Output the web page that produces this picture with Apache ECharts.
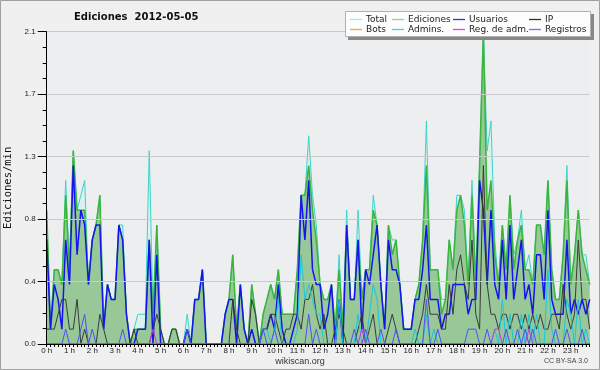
<!DOCTYPE html>
<html><head><meta charset="utf-8">
<script src="https://cdn.jsdelivr.net/npm/echarts@6/dist/echarts.min.js"></script>
<style>html,body{margin:0;padding:0;background:#f0f0f0}#c{width:600px;height:370px}</style>
</head><body><div id="c"></div>
<script>
const hourLabels = ['0 h','1 h','2 h','3 h','4 h','5 h','6 h','7 h','8 h','9 h','10 h','11 h','12 h','13 h','14 h','15 h','16 h','17 h','18 h','19 h','20 h','21 h','22 h','23 h'];
const minuteSteps = ['00','10','20','30','40','50'];
const yTicks = [0, 0.42, 0.84, 1.26, 1.68, 2.1];

const total = [
.9,.1,.5,.5,.4,1.1,.5,1.3,.9,1.0,
1.1,.4,.7,.8,1.0,.1,.4,.3,.3,.8,
.8,.2,0,.1,.2,.2,.2,1.3,.2,.8,
.1,0,0,.1,.1,0,0,.2,0,.3,
.3,.5,0,0,0,0,0,.2,.3,.6,
.1,.4,.1,0,.4,.2,0,.2,.3,.4,
.3,.5,.2,.2,.2,.2,.5,1.0,1.0,1.4,
1.0,.8,.4,.3,.3,.4,.1,.6,.1,.9,
.3,.3,.9,.3,.5,.5,1.0,.8,.4,.1,
.8,.7,.7,.4,.1,.1,.1,.3,.4,.7,
1.5,.5,.5,.5,.3,.3,.7,.5,1.0,1.0,
.9,.4,1.1,.4,1.2,2.1,1.3,1.5,.7,.4,
.8,.5,1.0,.6,.7,.9,.5,.6,.4,.8,
.8,.6,1.1,.5,.3,.3,.6,1.2,.4,.6,
.9,.6,.6,.4];
const ediciones = [
.9,.1,.5,.5,.4,1.0,.5,1.3,.9,.9,
.9,.4,.7,.8,1.0,.1,.4,.3,.3,.8,
.7,.2,0,.1,.1,.1,.1,.7,.2,.8,
.1,0,0,.1,.1,0,0,.1,0,.3,
.3,.5,0,0,0,0,0,.2,.3,.6,
.1,.4,.1,0,.4,.2,0,.2,.3,.4,
.3,.5,.2,.2,.2,.2,.5,1.0,1.0,1.2,
.9,.7,.4,.3,.3,.4,.1,.5,.1,.8,
.3,.3,.7,.3,.5,.5,.9,.8,.4,.1,
.8,.6,.7,.4,.1,.1,.1,.3,.4,.7,
1.2,.5,.5,.5,.2,.3,.7,.5,.9,1.0,
.8,.4,1.0,.4,1.2,2.1,.9,1.1,.6,.4,
.8,.5,1.0,.5,.7,.8,.5,.5,.4,.8,
.8,.6,1.1,.5,.3,.3,.6,1.1,.4,.6,
.9,.6,.5,.4];
const usuarios = [
.7,.1,.4,.3,.1,.7,.4,1.2,.6,.9,
.8,.4,.7,.8,.8,.1,.4,.3,.3,.8,
.7,.2,0,0,.1,.1,.1,.7,0,.6,
0,0,0,0,0,0,0,.1,0,.3,
.3,.5,0,0,0,0,0,.2,.3,.3,
0,.4,.1,0,.1,0,0,.1,.1,.2,
.1,.4,.1,0,0,.1,.2,1.0,.7,1.1,
.5,.4,.4,.1,.2,.4,0,.3,0,.8,
.3,.3,.7,.1,.5,.4,.6,.8,.4,.1,
.7,.5,.5,.4,.1,.1,.1,.3,.3,.5,
.8,.3,.3,.3,.1,.2,.2,.4,.4,.4,
.4,.2,.3,.3,1.1,.9,.4,.9,.4,.3,
.7,.3,.8,.3,.5,.7,.3,.4,.2,.6,
.6,.3,.9,.3,.2,.2,.2,.7,.2,.3,
.2,.3,.2,.3];
const ip = [
.1,.1,.1,.2,.3,.3,.1,.1,.3,0,
.1,0,0,0,.2,.1,0,0,0,0,
0,0,0,.1,0,0,0,0,.1,.2,
.1,0,0,.1,.1,0,0,0,0,0,
0,0,0,0,0,0,0,0,0,.3,
.1,0,0,0,.3,.2,0,.1,.1,.2,
.2,.1,0,.1,.1,.2,.2,.1,.3,.3,
.4,.2,.1,.2,0,0,.1,.2,.1,0,
0,0,.1,.2,0,.1,.2,0,0,0,
.1,.2,.1,0,0,0,0,0,.1,.2,
.4,.2,.2,.2,.1,.1,.4,.2,.5,.6,
.4,.3,.7,.2,.1,1.2,.4,.2,.2,.1,
.2,.2,.1,.2,.2,.1,.2,.1,.2,.1,
.2,.1,.1,.2,.2,.1,.4,.2,.1,.2,
.7,.3,.3,.1];
const bots = [
0,0,0,0,0,0,0,0,0,0, 0,0,0,0,0,0,0,0,0,0, 0,0,0,0,0,0,0,0,0,0, 0,0,0,0,0,0,0,0,0,0,
0,0,0,0,0,0,0,0,0,0, 0,0,0,0,0,0,0,0,0,0, 0,0,0,0,0,0,0,0,0,0, 0,0,0,0,0,0,0,0,0,0,
0,0,0,0,0,0,0,0,0,0, 0,0,0,0,0,0,0,0,0,0, 0,0,0,0,0,0,0,0,0,0, 0,0,0,0,0,0,0,0,0,0,
0,0,0,0,0,0,0,0,0,0, 0,0,0,0,0,0,0,0,0,0, 0,0,0,0];
const admins = [
0,0,0,0,0,0,0,0,0,0, 0,0,0,0,0,0,0,0,0,0, 0,0,0,0,0,0,0,0,0,0, 0,0,0,0,0,0,0,0,0,0,
0,0,0,0,0,0,0,0,0,0,
0,0,0,0,0,0,0,.1,.1,0,
.1,.3,0,0,0,0,.1,.6,.3,.4,
.3,.2,.2,0,0,0,0,.3,0,0,
0,0,.2,0,0,.2,.4,.3,0,0,
0,0,0,0,0,0,0,.1,0,0,
.2,0,.1,0,0,0,0,0,0,0,
0,0,0,0,0,0,0,0,.1,0,
.3,0,.2,0,0,.2,0,.2,0,.2,
0,0,.5,.1,0,0,0,.3,.2,0,
.3,0,.1,0];
const regAdm = [
0,0,0,0,0,0,0,0,0,0, 0,0,0,0,0,0,0,0,0,0, 0,0,0,0,0,0,0,0,.1,0, 0,0,0,0,0,0,0,0,0,0,
0,0,0,0,0,0,0,0,0,0, 0,0,0,0,0,0,0,0,0,0, 0,0,0,0,0,0,0,0,0,0, 0,0,0,0,0,0,0,0,0,0,
0,0,0,.1,0,0,0,0,0,0, 0,0,0,0,0,0,0,0,0,0, 0,0,0,0,0,0,0,0,0,0, 0,0,0,0,0,0,0,0,.1,.1,
0,0,0,0,0,0,0,.1,0,0, 0,0,0,0,0,0,0,0,0,0, 0,0,0,0];
const registros = [
0,0,0,0,0,.1,0,0,0,.1,
.2,0,.1,0,0,0,0,0,0,0,
.1,0,0,0,0,0,0,0,0,0,
0,0,0,0,0,0,0,.1,0,0,
0,0,0,0,0,0,0,0,0,0,
0,0,0,0,0,0,0,.1,0,0,
.1,0,0,0,0,0,0,0,0,.2,
0,.1,0,0,0,0,0,0,0,0,
0,.1,0,0,.1,0,0,0,.1,0,
0,0,.1,0,0,0,0,0,0,0,
.3,0,0,.1,0,0,0,0,0,0,
0,.1,.1,.1,0,0,.1,0,0,0,
0,.1,0,0,.1,0,.1,0,.1,0,
0,0,0,0,.1,0,0,.1,0,0,
0,.1,0,0];

const times = [];
hourLabels.forEach((h, hi) => minuteSteps.forEach(m => times.push(hi + ':' + m)));

const chart = echarts.init(document.getElementById('c'), null, {renderer: 'canvas'});
const FONT = 'DejaVu Sans';
const SMALL = 'Liberation Sans';

const legendItems = [
  {name: 'Total', color: '#a6e8e6', left: 350, top: 15},
  {name: 'Ediciones', color: '#8ad88a', left: 392, top: 15},
  {name: 'Usuarios', color: '#3434e6', left: 453, top: 15},
  {name: 'IP', color: '#333333', left: 529, top: 15},
  {name: 'Bots', color: '#f8a238', left: 350, top: 25},
  {name: 'Admins.', color: '#3ed6e6', left: 392, top: 25},
  {name: 'Reg. de adm.', color: '#e040ee', left: 453, top: 25},
  {name: 'Registros', color: '#7272f6', left: 529, top: 25}
];

function lineSeries(name, data, color, width, z, area) {
  const s = {
    name: name, type: 'line', data: data, symbol: 'none', z: z,
    lineStyle: {color: color, width: width}, itemStyle: {color: color},
    emphasis: {disabled: true}
  };
  if (area) s.areaStyle = {color: area, opacity: 1};
  return s;
}

chart.setOption({
  animation: false,
  backgroundColor: '#f0f0f0',
  title: {
    text: 'Ediciones  2012-05-05', left: 74, top: 12, padding: 0,
    textStyle: {fontFamily: FONT, fontSize: 10, fontWeight: 'bold', color: '#111'}
  },
  legend: legendItems.map(it => ({
    data: [{name: it.name, itemStyle: {color: it.color}}],
    left: it.left, top: it.top, padding: 0, itemGap: 0,
    icon: 'rect', itemWidth: 12, itemHeight: 1.3, z: 6,
    selectedMode: false,
    textStyle: {fontFamily: FONT, fontSize: 9, color: '#222', padding: [0, 0, 0, -1]}
  })),
  grid: {left: 46.7, right: 10.3, top: 31.7, bottom: 26, show: true, outerBoundsMode: 'none',
         containLabel: false, backgroundColor: '#eceef0', borderWidth: 0},
  xAxis: {
    type: 'category', data: times, boundaryGap: false, z: 4,
    axisLine: {lineStyle: {color: '#000', width: 1}},
    axisTick: {interval: 0, length: 3, lineStyle: {color: '#000'}},
    axisLabel: {interval: 5, margin: 3, fontFamily: SMALL, fontSize: 8, color: '#222',
      formatter: (v, i) => hourLabels[Math.floor(i / 6)]},
    splitLine: {show: false}
  },
  yAxis: {
    type: 'value', min: yTicks[0], max: yTicks[yTicks.length - 1], interval: yTicks[1], z: 4,
    name: 'Ediciones/min', nameLocation: 'middle', nameGap: 29, nameRotate: 90,
    nameTextStyle: {fontFamily: 'DejaVu Sans Mono', fontSize: 10.5, color: '#111'},
    axisLine: {show: true, lineStyle: {color: '#000'}},
    axisTick: {show: true, length: 9, lineStyle: {color: '#000'}},
    minorTick: {show: true, splitNumber: 4, length: 4, lineStyle: {color: '#000'}},
    axisLabel: {margin: 11, fontFamily: SMALL, fontSize: 8, color: '#222',
      formatter: v => v.toFixed(1)},
    splitLine: {show: true, lineStyle: {color: '#c9c9c9', width: 1}}
  },
  series: [
    lineSeries('Total', total, '#3cd4c8', 1, 2, '#ddf0ee'),
    lineSeries('Ediciones', ediciones, '#3cb43c', 1.5, 2, '#98c898'),
    lineSeries('Usuarios', usuarios, '#1414ee', 1.5, 3),
    lineSeries('IP', ip, '#3a3a3a', 1, 3),
    lineSeries('Bots', bots, '#f8a238', 1, 1),
    lineSeries('Admins.', admins, '#18c8dc', 1, 3),
    lineSeries('Reg. de adm.', regAdm, '#d030e0', 1, 3),
    lineSeries('Registros', registros, '#5050f8', 1, 3)
  ],
  graphic: [
    {type: 'rect', z: 5, silent: true, shape: {x: 348, y: 14, width: 246, height: 26}, style: {fill: '#888888'}},
    {type: 'rect', z: 5, silent: true, shape: {x: 345.5, y: 11.5, width: 245, height: 25}, style: {fill: '#fdfdfd', stroke: '#b0b0b0', lineWidth: 1}},
    {type: 'text', z: 5, silent: true, style: {text: 'wikiscan.org', x: 300, y: 362, align: 'center', verticalAlign: 'middle', font: '9px "Liberation Sans"', fill: '#333'}},
    {type: 'text', z: 5, silent: true, style: {text: 'CC BY-SA 3.0', x: 588, y: 361, align: 'right', verticalAlign: 'middle', font: '7px "Liberation Sans"', fill: '#444'}},
    {type: 'rect', z: 10, silent: true, shape: {x: 0.5, y: 0.5, width: 599, height: 369}, style: {fill: 'none', stroke: '#a0a0a0', lineWidth: 1}}
  ]
});
</script></body></html>
